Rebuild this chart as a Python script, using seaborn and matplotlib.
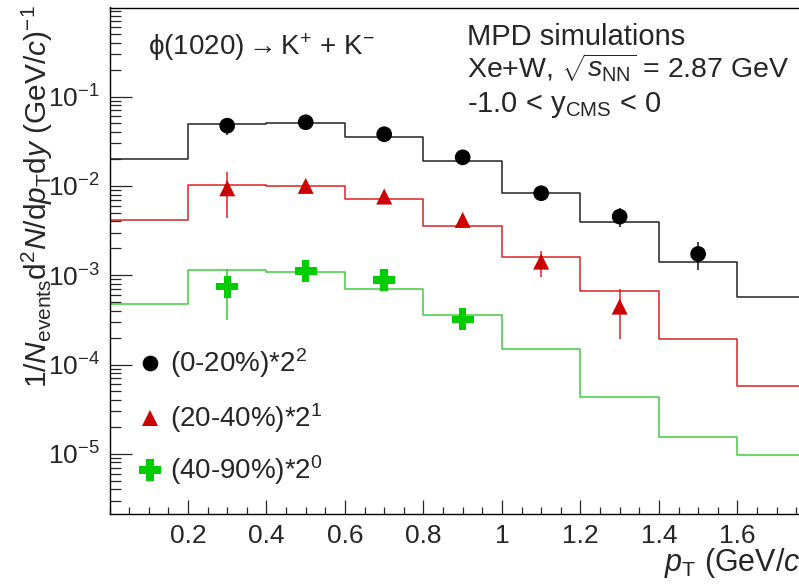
import numpy as np
import matplotlib
matplotlib.use("Agg")
import matplotlib.pyplot as plt
import seaborn as sns
import pandas as pd
from matplotlib.ticker import LogLocator, MultipleLocator, LogFormatterMathtext, NullFormatter, FixedLocator, FormatStrFormatter

# ---------------- data ----------------
bin_edges = [0.0, 0.2, 0.4, 0.6, 0.8, 1.0, 1.2, 1.4, 1.6, 1.8]
bin_centers = [0.1, 0.3, 0.5, 0.7, 0.9, 1.1, 1.3, 1.5, 1.7]
model_0_20 = [0.0200, 0.0491, 0.0500, 0.0354, 0.0192, 0.0084, 0.00398, 0.00140, 0.000576]
model_20_40 = [0.00416, 0.01025, 0.0100, 0.0071, 0.0036, 0.00158, 0.00066, 0.000192, 0.0000575]
model_40_90 = [0.000478, 0.00113, 0.00109, 0.000697, 0.000356, 0.000148, 0.0000434, 0.0000155, 0.0000097]

pt_0_20 = [0.3, 0.5, 0.7, 0.9, 1.1, 1.3, 1.5]
data_0_20 = [0.0473, 0.0516, 0.0379, 0.0209, 0.00828, 0.00453, 0.00173]
err_0_20 = [0.010, 0.005, 0.003, 0.003, 0.001, 0.0011, 0.0006]

pt_20_40 = [0.3, 0.5, 0.7, 0.9, 1.1, 1.3]
data_20_40 = [0.0094, 0.0100, 0.0076, 0.00416, 0.00142, 0.000445]
err_20_40 = [0.0050, 0.0008, 0.0006, 0.0004, 0.00047, 0.00025]

pt_40_90 = [0.3, 0.5, 0.7, 0.9]
data_40_90 = [0.000745, 0.00112, 0.000885, 0.000321]
err_40_90 = [0.00043, 0.00008, 0.00006, 0.00005]

legend_labels = ["(0-20%)*2$^{2}$", "(20-40%)*2$^{1}$", "(40-90%)*2$^{0}$"]
x_ticks = [0.2, 0.4, 0.6, 0.8, 1.0, 1.2, 1.4, 1.6]

# ---------------- style ----------------
sns.set_style("ticks")
plt.rcParams["font.family"] = ["Liberation Sans", "DejaVu Sans"]
plt.rcParams["mathtext.fontset"] = "custom"
plt.rcParams["mathtext.rm"] = "Liberation Sans"
plt.rcParams["mathtext.it"] = "Liberation Sans:italic"
plt.rcParams["mathtext.bf"] = "Liberation Sans:bold"

W, H = 799, 585
fig = plt.figure(figsize=(W / 100, H / 100), dpi=100)
fig.patch.set_facecolor("white")

def fx(px):
    return px / W

def fy(py):
    return 1 - py / H

ax = fig.add_axes([fx(109.5), fy(514), (W - 109.5) / W, (514 - 7.5) / H])
ax.set_facecolor("white")

line_cols = ["#222222", "#dd2020", "#40cc40"]
mark_cols = ["#000000", "#cc0000", "#00cc00"]
err_cols = ["#111111", "#dd2222", "#30cc30"]
markers = ["o", "^", "P"]
msizes = [11.3, 11.5, 16.0]

models = [model_0_20, model_20_40, model_40_90]
for vals, c in zip(models, line_cols):
    sns.histplot(x=bin_centers, weights=vals, bins=bin_edges, element="step",
                 fill=False, color=c, linewidth=1.1, ax=ax)

datasets = [(pt_0_20, data_0_20, err_0_20), (pt_20_40, data_20_40, err_20_40),
            (pt_40_90, data_40_90, err_40_90)]
for (x, y, e), mc, ec, mk, ms in zip(datasets, mark_cols, err_cols, markers, msizes):
    ax.errorbar(x, y, yerr=e, fmt="none", ecolor=ec, elinewidth=1.1, capsize=0, zorder=3)
    sns.scatterplot(x=x, y=y, marker=mk, s=ms ** 2, color=mc, edgecolor="none",
                    linewidth=0, ax=ax, zorder=4)

ax.set_yscale("log")
ax.set_xlim(0, 1.757)
ax.set_ylim(2.12e-6, 0.995)
ax.set_xlabel("")
ax.set_ylabel("")

# ticks ROOT-like
ax.xaxis.set_major_locator(FixedLocator(x_ticks))
ax.xaxis.set_major_formatter(FormatStrFormatter("%g"))
ax.xaxis.set_minor_locator(MultipleLocator(0.05))
ax.yaxis.set_major_locator(LogLocator(base=10, numticks=20))
ax.yaxis.set_major_formatter(LogFormatterMathtext())
ax.yaxis.set_minor_locator(LogLocator(base=10, subs=np.arange(2, 10), numticks=20))
ax.yaxis.set_minor_formatter(NullFormatter())
ax.tick_params(axis="x", which="major", direction="in", length=10, width=0.9, labelsize=19, pad=7, top=False)
ax.tick_params(axis="x", which="minor", direction="in", length=5, width=0.9, top=False)
ax.tick_params(axis="y", which="major", direction="in", length=15.5, width=0.9, labelsize=19, pad=7, right=False)
ax.tick_params(axis="y", which="minor", direction="in", length=8, width=0.9, right=False)
for s in ["left", "bottom", "top"]:
    ax.spines[s].set_linewidth(1.0)
    ax.spines[s].set_color("black")
ax.spines["right"].set_visible(False)

# axis titles
fig.text(fx(47), fy(5), r"1/$N_{\rm events}$d$^{2}$$N$/d$p_{\rm T}$d$y$ (GeV/$c$)$^{-1}$",
         rotation=90, rotation_mode="anchor", ha="right", va="baseline", fontsize=21.5)
fig.text(fx(664), fy(571), r"$p_{\rm T}$ (GeV/$c$)", ha="left", va="baseline", fontsize=22)

# annotations
fig.text(fx(148), fy(55), r"ϕ(1020)$\rightarrow$K$^{+}$ + K$^{-}$", ha="left", va="baseline", fontsize=20)
fig.text(fx(467), fy(45), "MPD simulations", ha="left", va="baseline", fontsize=21)
fig.text(fx(467), fy(78), r"Xe+W, $\sqrt{s_{\rm NN}}$ = 2.87 GeV", ha="left", va="baseline", fontsize=20.5)
fig.text(fx(467), fy(112), r"-1.0 < y$_{\rm CMS}$ < 0", ha="left", va="baseline", fontsize=21)

# legend
leg_y = [362.7, 418, 470]
for lab, yy, mc, mk, ms in zip(legend_labels, leg_y, mark_cols, markers, msizes):
    ax.plot([fx(150)], [fy(yy)], marker=mk, markersize=ms, color=mc, linestyle="none",
            markeredgewidth=0, transform=fig.transFigure, clip_on=False)
    fig.text(fx(170), fy(yy), lab, ha="left", va="center", fontsize=20)

fig.savefig("out.png", dpi=100, facecolor="white")
